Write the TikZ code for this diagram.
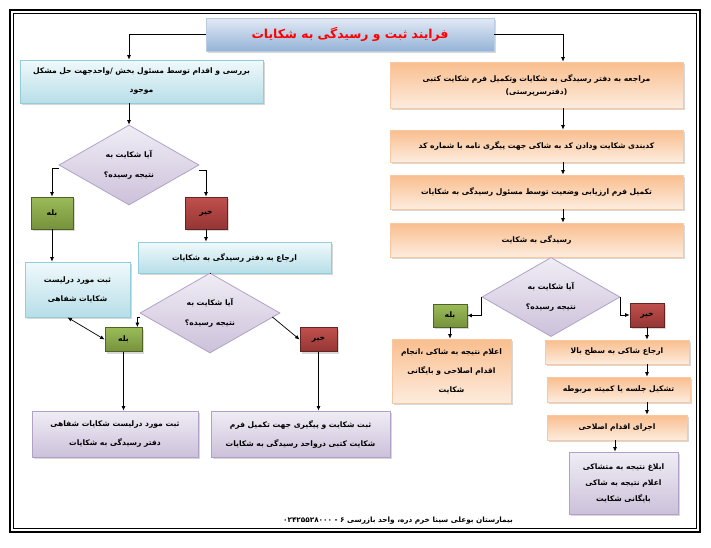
\documentclass[tikz,border=0pt]{standalone}
\usepackage{fontspec}
\usetikzlibrary{calc, positioning}
\usetikzlibrary{arrows.meta}
\usetikzlibrary{shapes.geometric, shadows}
\newfontfamily\arabicfont[Script=Arabic]{DejaVu Sans}
\TeXXeTstate=1
\newcommand{\fa}[1]{\beginR #1\endR}

\definecolor{titletop}{RGB}{226,234,245}
\definecolor{titlebot}{RGB}{149,179,215}
\definecolor{titleline}{RGB}{184,204,228}
\definecolor{cyantop}{RGB}{240,249,251}
\definecolor{cyanbot}{RGB}{183,222,232}
\definecolor{cyanline}{RGB}{146,205,220}
\definecolor{orangetop}{RGB}{249,190,142}
\definecolor{orangebot}{RGB}{253,236,222}
\definecolor{orangeline}{RGB}{250,200,160}
\definecolor{lavtop}{RGB}{240,237,245}
\definecolor{lavbot}{RGB}{204,193,218}
\definecolor{lavline}{RGB}{178,161,199}
\definecolor{greentop}{RGB}{155,187,89}
\definecolor{greenbot}{RGB}{118,146,60}
\definecolor{greenline}{RGB}{79,98,40}
\definecolor{redtop}{RGB}{192,80,77}
\definecolor{redbot}{RGB}{148,54,52}
\definecolor{redline}{RGB}{99,37,35}

\tikzset{
  box/.style={rectangle, inner sep=0pt, align=center, line width=0.8pt,
    font=\arabicfont\bfseries\fontsize{7.6}{19}\selectfont,
    drop shadow={shadow xshift=2pt, shadow yshift=-2pt, opacity=0.3}},
  cyanbox/.style={box, draw=cyanline, top color=cyantop, bottom color=cyanbot},
  orangebox/.style={box, draw=orangeline, top color=orangetop, bottom color=orangebot},
  purplebox/.style={box, draw=lavline, top color=lavtop, bottom color=lavbot},
  yesbox/.style={box, draw=greenline, top color=greentop, bottom color=greenbot},
  nobox/.style={box, draw=redline, top color=redtop, bottom color=redbot},
  question/.style={diamond, draw=lavline, line width=0.8pt, top color=lavtop,
    bottom color=lavbot, inner sep=0pt, align=center,
    minimum width=140pt, minimum height=80pt,
    font=\arabicfont\bfseries\fontsize{7.6}{20}\selectfont},
  arr/.style={-{Latex[length=4.5pt,width=4pt]}, black, line width=0.7pt},
}

\begin{document}
\begin{tikzpicture}[x=1pt, y=-1pt]
\useasboundingbox (0,0) rectangle (711,547);
\fill[white] (0,0) rectangle (711,547);

\draw[line width=2.4pt] (10,10) rectangle (700,532);
\draw[line width=0.8pt] (13.5,13.5) rectangle (696.5,528.5);

\coordinate (rx) at (563,0);

\node[box, draw=titleline, top color=titletop, bottom color=titlebot,
  minimum width=288pt, minimum height=33pt, text=red,
  font=\arabicfont\bfseries\fontsize{12.3}{15}\selectfont]
  (title) at (350,34.5) {\fa{فرایند ثبت و رسیدگی به شکایات}};

% left side
\node[cyanbox, minimum width=243pt, minimum height=43pt] (lb1) at (141.5,81.5)
  {\fa{بررسی و اقدام توسط مسئول بخش /واحدجهت حل مشکل}\\\fa{موجود}};
\node[question] (ld1) at (129,165) {\fa{آیا شکایت به}\\\fa{نتیجه رسیده؟}};
\node[yesbox, minimum width=42pt, minimum height=32pt] (lg1) at (52,213) {\fa{بله}};
\node[nobox, minimum width=42pt, minimum height=32pt] (lr1) at (206,213) {\fa{خیر}};
\node[cyanbox, minimum width=105pt, minimum height=55pt] (lb2) at (77.5,289.5)
  {\fa{ثبت مورد درلیست}\\\fa{شکایات شفاهی}};
\node[cyanbox, minimum width=193pt, minimum height=31pt] (lb3) at (234.5,257.5)
  {\fa{ارجاع به دفتر رسیدگی به شکایات}};
\node[question] (ld2) at (210,313) {\fa{آیا شکایت به}\\\fa{نتیجه رسیده؟}};
\node[yesbox, minimum width=37pt, minimum height=24pt] (lg2) at (123.5,339.5) {\fa{بله}};
\node[nobox, minimum width=37pt, minimum height=24pt] (lr2) at (318.5,339.5) {\fa{خیر}};
\node[purplebox, minimum width=166pt, minimum height=46pt] (lp1) at (115,434)
  {\fa{ثبت مورد درلیست شکایات شفاهی}\\\fa{دفتر رسیدگی به شکایات}};
\node[purplebox, minimum width=179pt, minimum height=46pt] (lp2) at (300.5,434)
  {\fa{ثبت شکایت و پیگیری جهت تکمیل فرم}\\\fa{شکایت کتبی درواحد رسیدگی به شکایات}};

% right side
\node[orangebox, minimum width=293pt, minimum height=46pt,
  font=\arabicfont\bfseries\fontsize{7.6}{13}\selectfont] (rb1) at (536.5,85)
  {\fa{مراجعه به دفتر رسیدگی به شکایات وتکمیل فرم شکایت کتبی}\\\fa{(دفترسرپرستی)}};
\node[orangebox, minimum width=293pt, minimum height=32pt] (rb2) at (536.5,146)
  {\fa{کدبندی شکایت ودادن کد به شاکی جهت پیگری نامه با شماره کد}};
\node[orangebox, minimum width=293pt, minimum height=34pt] (rb3) at (536.5,192)
  {\fa{تکمیل فرم ارزیابی وضعیت توسط مسئول رسیدگی به شکایات}};
\node[orangebox, minimum width=293pt, minimum height=34pt] (rb4) at (536.5,240)
  {\fa{رسیدگی به شکایت}};
\node[question, minimum width=138pt, minimum height=78pt] (rd) at (551,297)
  {\fa{آیا شکایت به}\\\fa{نتیجه رسیده؟}};
\node[yesbox, minimum width=34pt, minimum height=23pt] (rg) at (450,315.5) {\fa{بله}};
\node[nobox, minimum width=34pt, minimum height=24pt] (rr) at (647,315) {\fa{خیر}};
\node[orangebox, minimum width=119pt, minimum height=64pt] (ro1) at (451.5,371)
  {\fa{اعلام نتیجه به شاکی ،انجام}\\\fa{اقدام اصلاحی و بایگانی}\\\fa{شکایت}};
\node[orangebox, minimum width=144pt, minimum height=24pt] (ro2) at (617,352)
  {\fa{ارجاع شاکی به سطح بالا}};
\node[orangebox, minimum width=143pt, minimum height=25pt] (ro3) at (618.5,389.5)
  {\fa{تشکیل جلسه یا کمیته مربوطه}};
\node[orangebox, minimum width=140pt, minimum height=25pt] (ro4) at (617,427.5)
  {\fa{اجرای اقدام اصلاحی}};
\node[purplebox, minimum width=109pt, minimum height=62pt,
  font=\arabicfont\bfseries\fontsize{7.6}{16}\selectfont] (rp) at (623.5,483)
  {\fa{ابلاغ نتیجه به متشاکی}\\\fa{اعلام نتیجه به شاکی}\\\fa{بایگانی شکایت}};

\node[font=\arabicfont\bfseries\fontsize{7.3}{9}\selectfont] (foot) at (398,521)
  {\fa{بیمارستان بوعلی سینا خرم دره، واحد بازرسی ۶ - ۰۲۴۲۵۵۲۸۰۰۰}};

% connectors
\draw[arr] (title.west) -| (lb1.north -| ld1.north);
\draw[arr] (lb1.south -| ld1.north) -- (ld1.north);
\draw[arr] ([yshift=-3pt]ld1.west) -| (lg1.north);
\draw[arr] ([yshift=-5pt]ld1.east) -| (lr1.north);
\draw[arr] (lg1.south) -- (lb2.north -| lg1.south);
\draw[arr] (lr1.south) -- (lb3.north -| lr1.south);
\draw[black, line width=0.7pt] (lb3.south -| ld2.north) -- (ld2.north);
\draw[arr] ([yshift=-4pt]ld2.west) -| ([xshift=-5pt]lg2.north east);
\draw[{Latex[length=4.5pt,width=4pt]}-{Latex[length=4.5pt,width=4pt]}, line width=0.7pt]
  ([xshift=-10pt]lb2.south) -- (lg2.west);
\draw[arr] ([xshift=-8pt, yshift=-4pt]ld2.east) -- (lr2.west);
\draw[arr] (lg2.south) -- (lp1.north -| lg2.south);
\draw[arr] (lr2.south) -- (lp2.north -| lr2.south);

\draw[arr] (title.east) -| (rb1.north -| rx);
\draw[arr] (rb1.south -| rx) -- (rb2.north -| rx);
\draw[arr] (rb2.south -| rx) -- (rb3.north -| rx);
\draw[arr] (rb3.south -| rx) -- (rb4.north -| rx);
\draw[arr] (rd.west) |- (rg.east);
\draw[arr] (rd.east) |- (rr.west);
\draw[arr] (rg.south) -- (ro1.north -| rg.south);
\draw[arr] (rr.south) -- (ro2.north -| rr.south);
\draw[arr] (ro2.south -| rr.south) -- (ro3.north -| rr.south);
\draw[arr] (ro3.south -| rr.south) -- (ro4.north -| rr.south);
\draw[arr] ([xshift=-2pt]ro4.south) -- ([xshift=-8.5pt]rp.north);
\end{tikzpicture}
\end{document}
